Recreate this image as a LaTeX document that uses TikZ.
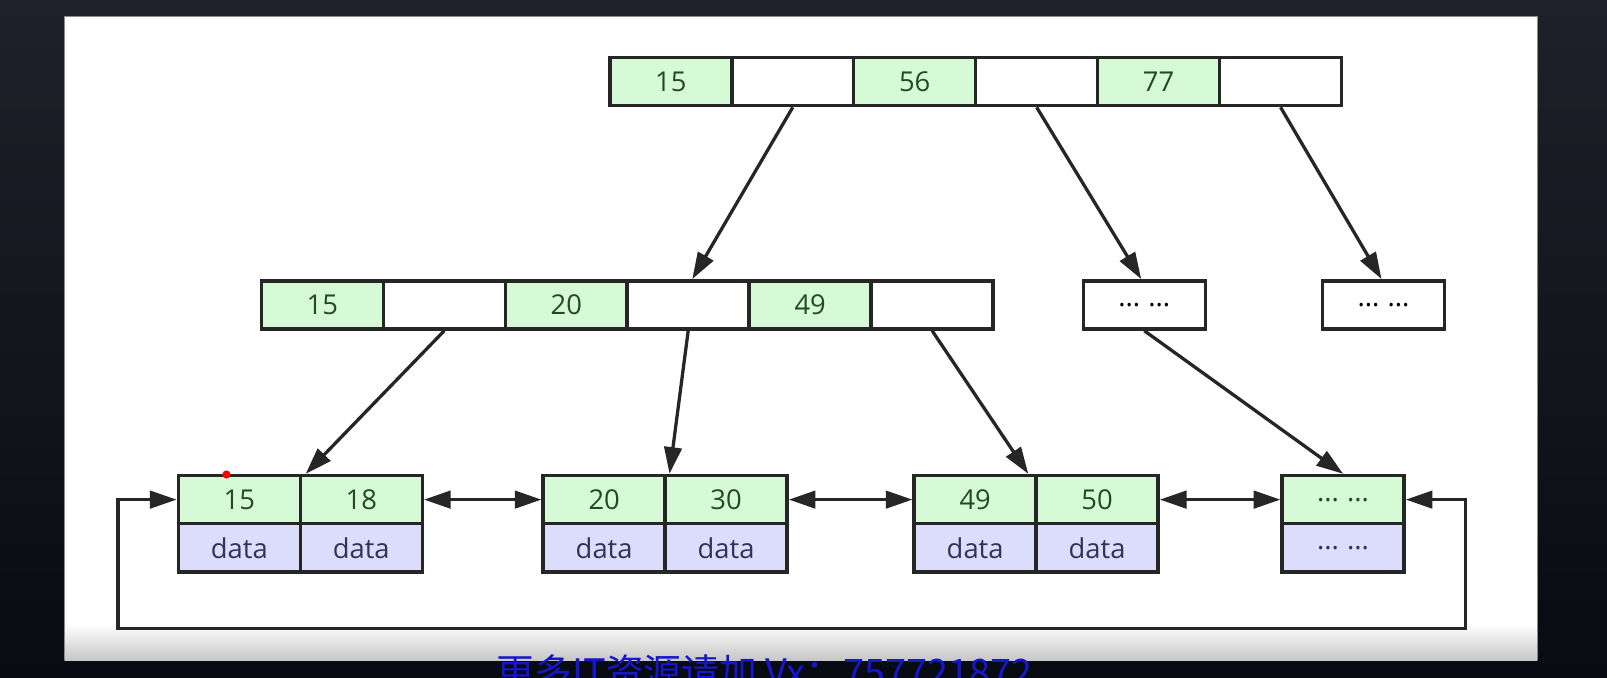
\documentclass[tikz,border=0pt]{standalone}
\usepackage{fontspec}
\setmainfont{Open Sans}
\newfontfamily\cjkfont{Noto Sans CJK SC}
\usetikzlibrary{arrows.meta}

\definecolor{screen}{HTML}{1F212A}
\definecolor{screendark}{HTML}{090B12}
\definecolor{linecol}{HTML}{262626}
\definecolor{keyfill}{HTML}{D6F9D6}
\definecolor{keytext}{HTML}{234A23}
\definecolor{datafill}{HTML}{DCDDFA}
\definecolor{datatext}{HTML}{30345C}
\definecolor{markblue}{HTML}{1616CC}

\tikzset{
  cell/.style={draw=linecol, line width=0.34mm, minimum width=11.9mm,
    minimum height=4.7mm, inner sep=0pt, font=\fontsize{7.6}{9}\selectfont},
  keycell/.style={cell, fill=keyfill, text=keytext},
  ptrcell/.style={cell, fill=white, text=black},
  datacell/.style={cell, fill=datafill, text=datatext},
  link/.style={draw=linecol, line width=0.32mm},
}

\begin{document}
\begin{tikzpicture}[x=0.1mm, y=-0.1mm,
    >={Triangle[length=2.6mm,width=1.7mm]}]
  \clip (0,0) rectangle (1568,661);
  % screen and slide
  \shade[top color=screen, bottom color=screendark] (0,0) rectangle (1568,661);
  \fill[white] (63,16) rectangle (1500,610);
  \shade[top color=white, bottom color=black!22] (63,609) rectangle (1500,644);
  \draw[black!45, line width=0.1mm] (63,644) -- (63,16) -- (1500,16) -- (1500,644);

  % root
  \node[keycell] (t1) at (654.5,79.5) {15};
  \node[ptrcell] (t2) at (773.5,79.5) {};
  \node[keycell] (t3) at (892.5,79.5) {56};
  \node[ptrcell] (t4) at (1011.5,79.5) {};
  \node[keycell] (t5) at (1130.5,79.5) {77};
  \node[ptrcell] (t6) at (1249.5,79.5) {};

  % inner level
  \node[keycell] (m1) at (314.5,297.5) {15};
  \node[ptrcell] (m2) at (433.5,297.5) {};
  \node[keycell] (m3) at (552.5,297.5) {20};
  \node[ptrcell] (m4) at (671.5,297.5) {};
  \node[keycell] (m5) at (790.5,297.5) {49};
  \node[ptrcell] (m6) at (909.5,297.5) {};
  \node[ptrcell] (d1) at (1116.5,297.5) {...\hspace{0.8mm}...};
  \node[ptrcell] (d2) at (1350,297.5) {...\hspace{0.8mm}...};

  % leaves
  \node[keycell] (l1a) at (233.5,487.5) {15};
  \node[keycell] (l1b) at (352.5,487.5) {18};
  \node[datacell] (l1c) at (233.5,534.5) {data};
  \node[datacell] (l1d) at (352.5,534.5) {data};
  \node[keycell] (l2a) at (589.5,487.5) {20};
  \node[keycell] (l2b) at (708.5,487.5) {30};
  \node[datacell] (l2c) at (589.5,534.5) {data};
  \node[datacell] (l2d) at (708.5,534.5) {data};
  \node[keycell] (l3a) at (951.5,487.5) {49};
  \node[keycell] (l3b) at (1070.5,487.5) {50};
  \node[datacell] (l3c) at (951.5,534.5) {data};
  \node[datacell] (l3d) at (1070.5,534.5) {data};
  \node[keycell] (l4a) at (1310.5,487.5) {...\hspace{0.8mm}...};
  \node[datacell] (l4b) at (1310.5,534.5) {...\hspace{0.8mm}...};

  \coordinate (loopl) at (115,613);
  \coordinate (loopr) at (1430,613);

  \begin{scope}[->]
    \draw[link] (t2.south) -- ([xshift=0.4mm]m4.north);
    \draw[link] (t4.south) -- ([xshift=-0.3mm]d1.north);
    \draw[link] (t6.south) -- ([xshift=-0.2mm]d2.north);
    \draw[link] (m2.south) -- ([xshift=0.7mm]l1b.north west);
    \draw[link] (m4.south) -- ([xshift=0.6mm]l2b.north west);
    \draw[link] (m6.south) -- ([xshift=-0.6mm]l3b.north west);
    \draw[link] (d1.south) -- (l4a.north);
  \end{scope}
  \begin{scope}[<->]
    \draw[link] (l1b.east) -- (l2a.west);
    \draw[link] (l2b.east) -- (l3a.west);
    \draw[link] (l3b.east) -- (l4a.west);
    \draw[link] (l1a.west) -| (loopl) -- (loopr) |- (l4a.east);
  \end{scope}

  \fill[red] (221,463) circle (4);
  \node[anchor=north, inner sep=0pt, text=markblue,
    font=\cjkfont\fontsize{10.5}{12}\selectfont] (mark) at (746,638)
    {更多IT资源请加 Vx：757721872};
\end{tikzpicture}
\end{document}
